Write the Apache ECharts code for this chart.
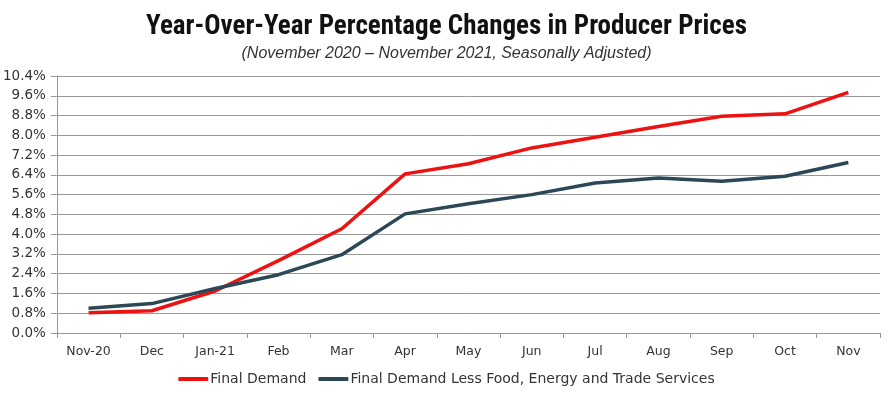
<!DOCTYPE html>
<html><head><meta charset="utf-8">
<script src="https://cdn.jsdelivr.net/npm/echarts@6/dist/echarts.min.js"></script>
<style>html,body{margin:0;padding:0;background:#fff}#c{width:893px;height:404px}</style>
</head><body><div id="c"></div>
<script>
const categories = ['Nov-20','Dec','Jan-21','Feb','Mar','Apr','May','Jun','Jul','Aug','Sep','Oct','Nov'];
const finalDemand = [0.82, 0.9, 1.7, 2.93, 4.22, 6.44, 6.85, 7.49, 7.92, 8.36, 8.77, 8.87, 9.74];
const coreDemand = [1.0, 1.19, 1.8, 2.36, 3.17, 4.82, 5.23, 5.6, 6.07, 6.27, 6.14, 6.34, 6.9];
const seriesNames = ['Final Demand', 'Final Demand Less Food, Energy and Trade Services'];
const chart = echarts.init(document.getElementById('c'));
chart.setOption({
  animation: false,
  title: {
    text: 'Year-Over-Year Percentage Changes in Producer Prices',
    subtext: '(November 2020 \u2013 November 2021, Seasonally Adjusted)',
    left: 'center', top: 9, itemGap: 5,
    textStyle: {fontFamily: 'Liberation Sans Narrow, Roboto Condensed, Arial Narrow, sans-serif', fontWeight: 'bold', fontSize: 27, color: '#111'},
    subtextStyle: {fontFamily: 'Liberation Sans Narrow, sans-serif', fontStyle: 'italic', fontSize: 16, color: '#333'}
  },
  legend: {
    bottom: 13, left: 'center', itemWidth: 30, itemHeight: 4, itemGap: 12,
    icon: 'roundRect',
    textStyle: {fontFamily: 'DejaVu Sans, sans-serif', fontSize: 14, color: '#333', padding: [0,0,0,-3]},
    data: seriesNames
  },
  grid: {left: 56, right: 13, top: 76, bottom: 71},
  xAxis: {
    type: 'category', data: categories, boundaryGap: true,
    axisLine: {lineStyle: {color: '#999'}},
    axisTick: {show: true, length: 5, lineStyle: {color: '#999'}},
    axisLabel: {fontFamily: 'DejaVu Sans, sans-serif', fontSize: 12.5, color: '#333', margin: 12}
  },
  yAxis: {
    type: 'value', min: 0, max: 10.4, interval: 0.8,
    axisLine: {show: true, lineStyle: {color: '#999'}},
    axisTick: {show: true, length: 6, lineStyle: {color: '#999'}},
    splitLine: {lineStyle: {color: '#999'}},
    axisLabel: {fontFamily: 'DejaVu Sans, sans-serif', fontSize: 13.5, color: '#333', margin: 11,
      formatter: v => v.toFixed(1) + '%'}
  },
  series: [
    {name: seriesNames[0], type: 'line', data: finalDemand, symbol: 'none', lineStyle: {color: '#ee1111', width: 3.5}, itemStyle: {color: '#ee1111'}},
    {name: seriesNames[1], type: 'line', data: coreDemand, symbol: 'none', lineStyle: {color: '#2c4755', width: 3.5}, itemStyle: {color: '#2c4755'}}
  ]
});
</script></body></html>
